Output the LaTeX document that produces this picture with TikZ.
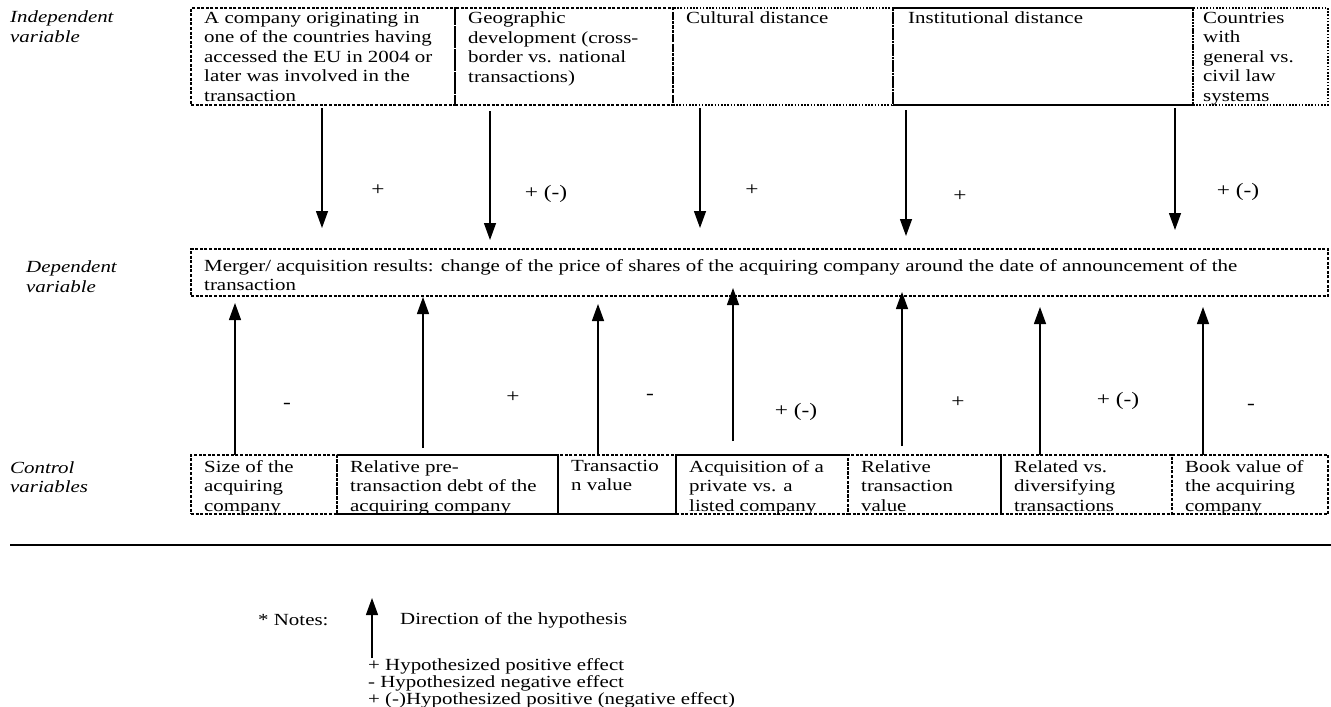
\documentclass[tikz,border=0pt]{standalone}
\usepackage{fontspec}
\setmainfont{Liberation Serif}[FakeStretch=1.23]
\usetikzlibrary{arrows.meta,calc}

\newcommand{\bodyfont}{\fontsize{17}{19.5}\selectfont}
\tikzset{
  vbox/.style={draw, line width=1.3pt, dash pattern=on 3pt off 1.6pt, anchor=north west, inner sep=0pt, outer sep=0pt},
  dotbox/.style={vbox, dash pattern=on 1.6pt off 1.6pt},
  celltext/.style={anchor=north west, align=left, inner xsep=13pt, inner ysep=4pt},
  solidedge/.style={line width=1.9pt},
  hyparrow/.style={-{Triangle[width=12pt,length=17pt]}, line width=1.3pt},
  sign/.style={font=\fontsize{19}{23}\selectfont},
  rowlabel/.style={anchor=north west, align=left, font=\bodyfont\itshape, inner sep=0pt},
  notetext/.style={anchor=west, inner sep=0pt},
}

\begin{document}
\begin{tikzpicture}[x=1pt,y=-1pt,font=\bodyfont]
\useasboundingbox (0,0) rectangle (1331,707);

% row labels
\node[rowlabel] (lind) at (10,11) {Independent\\variable};
\node[rowlabel] (ldep) at (26,261) {Dependent\\variable};
\node[rowlabel] (lctl) at (10,461) {Control\\variables};

% independent variables
\node[vbox, minimum width=264pt, minimum height=97pt,
  label={[celltext]north west:{A company originating in\\one of the countries having\\accessed the EU in 2004 or\\later was involved in the\\transaction}}] (I1) at (191,8) {};
\node[vbox, minimum width=218pt, minimum height=97pt,
  label={[celltext]north west:{Geographic\\development (cross-\\border vs. national\\transactions)}}] (I2) at (455,8) {};
\node[dotbox, minimum width=220pt, minimum height=97pt,
  label={[celltext]north west:{Cultural distance}}] (I3) at (673,8) {};
\node[dotbox, minimum width=300pt, minimum height=97pt,
  label={[celltext, inner xsep=15pt]north west:{Institutional distance}}] (I4) at (893,8) {};
\node[dotbox, minimum width=135pt, minimum height=97pt,
  label={[celltext, inner xsep=10pt]north west:{Countries\\with\\general vs.\\civil law\\systems}}] (I5) at (1193,8) {};
\draw[solidedge] (I4.north west) -- (I4.north east);
\draw[solidedge] (I4.south west) -- (I4.south east);

% dependent variable
\node[vbox, minimum width=1137pt, minimum height=47pt,
  label={[celltext, inner ysep=10pt]north west:{Merger/ acquisition results: change of the price of shares of the acquiring company around the date of announcement of the\\transaction}}] (D) at (191,249) {};

% control variables
\node[vbox, minimum width=146pt, minimum height=59pt,
  label={[celltext, inner ysep=5pt]north west:{Size of the\\acquiring\\company}}] (C1) at (191,455) {};
\node[vbox, minimum width=221pt, minimum height=59pt,
  label={[celltext, inner ysep=5pt]north west:{Relative pre-\\transaction debt of the\\acquiring company}}] (C2) at (337,455) {};
\node[vbox, minimum width=118pt, minimum height=59pt,
  label={[celltext, inner ysep=5pt]north west:{Transactio\\n value}}] (C3) at (558,455) {};
\node[vbox, minimum width=172pt, minimum height=59pt,
  label={[celltext, inner ysep=5pt]north west:{Acquisition of a\\private vs. a\\listed company}}] (C4) at (676,455) {};
\node[vbox, minimum width=153pt, minimum height=59pt,
  label={[celltext, inner ysep=5pt]north west:{Relative\\transaction\\value}}] (C5) at (848,455) {};
\node[vbox, minimum width=171pt, minimum height=59pt,
  label={[celltext, inner ysep=5pt]north west:{Related vs.\\diversifying\\transactions}}] (C6) at (1001,455) {};
\node[vbox, minimum width=156pt, minimum height=59pt,
  label={[celltext, inner ysep=5pt]north west:{Book value of\\the acquiring\\company}}] (C7) at (1172,455) {};
\draw[solidedge] (C2.north west) -- (C2.north east);
\draw[solidedge] (C2.south west) -- (C3.south east);
\draw[solidedge] (C4.north west) -- (C4.north east);

% arrow columns
\coordinate (u1) at (322,0);
\coordinate (u2) at (490,0);
\coordinate (u3) at (700,0);
\coordinate (u4) at (906,0);
\coordinate (u5) at (1175,0);
\coordinate (l1) at (235,0);
\coordinate (l2) at (423,0);
\coordinate (l3) at (598,0);
\coordinate (l4) at (733,0);
\coordinate (l5) at (902,0);
\coordinate (l6) at (1040,0);
\coordinate (l7) at (1203,0);

% independent -> dependent
\draw[hyparrow] ($(I1.south -| u1)+(0,3)$) -- ($(D.north -| u1)+(0,-21)$);
\draw[hyparrow] ($(I2.south -| u2)+(0,6)$) -- ($(D.north -| u2)+(0,-9)$);
\draw[hyparrow] ($(I3.south -| u3)+(0,3)$) -- ($(D.north -| u3)+(0,-21)$);
\draw[hyparrow] ($(I4.south -| u4)+(0,5)$) -- ($(D.north -| u4)+(0,-13)$);
\draw[hyparrow] ($(I5.south -| u5)+(0,3)$) -- ($(D.north -| u5)+(0,-19)$);
\node[sign] (s1) at (378,190) {+};
\node[sign] (s2) at (546,194) {+ (-)};
\node[sign] (s3) at (752,190) {+};
\node[sign] (s4) at (960,196) {+};
\node[sign] (s5) at (1238,192) {+ (-)};

% control -> dependent
\draw[hyparrow] (C1.north -| l1) -- ($(D.south -| l1)+(0,7)$);
\draw[hyparrow] ($(C2.north -| l2)+(0,-7)$) -- ($(D.south -| l2)+(0,1)$);
\draw[hyparrow] (C3.north -| l3) -- ($(D.south -| l3)+(0,8)$);
\draw[hyparrow] ($(C4.north -| l4)+(0,-14)$) -- ($(D.south -| l4)+(0,-8)$);
\draw[hyparrow] ($(C5.north -| l5)+(0,-9)$) -- ($(D.south -| l5)+(0,-4)$);
\draw[hyparrow] (C6.north -| l6) -- ($(D.south -| l6)+(0,11)$);
\draw[hyparrow] (C7.north -| l7) -- ($(D.south -| l7)+(0,11)$);
\node[sign] (c1) at (287,406) {-};
\node[sign] (c2) at (513,397) {+};
\node[sign] (c3) at (650,397) {-};
\node[sign] (c4) at (796,412) {+ (-)};
\node[sign] (c5) at (958,402) {+};
\node[sign] (c6) at (1118,401) {+ (-)};
\node[sign] (c7) at (1251,407) {-};

% separator
\coordinate (r0) at (10,545);
\coordinate (r1) at (1331,545);
\draw[line width=1.8pt] (r0) -- (r1);

% notes
\node[notetext] (nt) at (258,620) {* Notes:};
\coordinate (n0) at (372,658);
\coordinate (n1) at (372,598);
\draw[hyparrow] (n0) -- (n1);
\node[notetext] (nd) at (400,620) {Direction of the hypothesis};
\node[notetext] (k1) at (368,666) {+ Hypothesized positive effect};
\node[notetext] (k2) at (368,683) {- Hypothesized negative effect};
\node[notetext] (k3) at (368,700) {+ (-)Hypothesized positive (negative effect)};
\end{tikzpicture}
\end{document}
